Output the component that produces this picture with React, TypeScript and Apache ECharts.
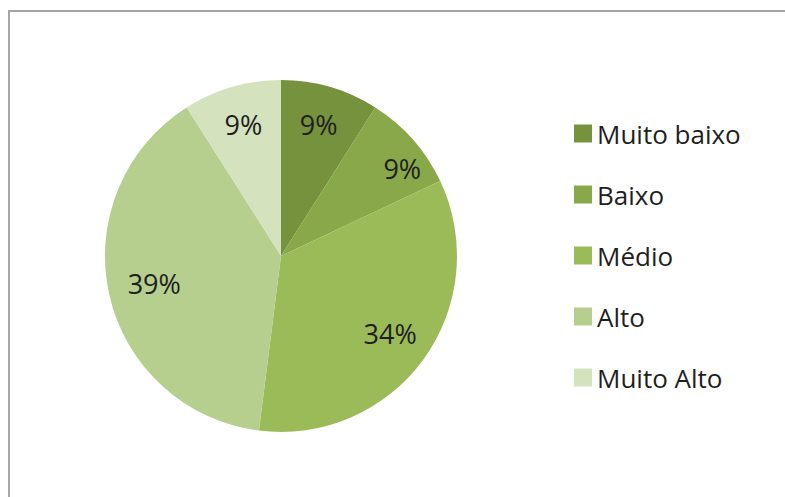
import React, { useEffect, useRef } from "react";
import * as echarts from "echarts";

const categories = ["Muito baixo", "Baixo", "Médio", "Alto", "Muito Alto"];
const values = [9, 9, 34, 39, 9];
const colors = ["#76923c", "#88a84a", "#9bbb59", "#b6ce8e", "#d4e2bd"];

export default function App() {
  const ref = useRef<HTMLDivElement>(null);
  useEffect(() => {
    document.body.style.margin = "0";
    const chart = echarts.init(ref.current!, null, { renderer: "svg" });
    const data = categories.map((name, i) => ({
      name,
      value: values[i],
      itemStyle: { color: colors[i] },
    }));
    chart.setOption({
      animation: false,
      backgroundColor: "#ffffff",
      graphic: [
        {
          type: "rect",
          shape: { x: 9, y: 11, width: 900, height: 600 },
          style: { fill: "none", stroke: "#a6a6a6", lineWidth: 2 },
          silent: true,
        },
      ],
      legend: {
        orient: "vertical",
        left: 569,
        top: 115,
        data: categories,
        icon: "rect",
        itemWidth: 18,
        itemHeight: 18,
        itemGap: 34,
        selectedMode: false,
        textStyle: {
          fontFamily: "Open Sans",
          fontSize: 26,
          lineHeight: 27,
          color: "#1f1f1f",
          padding: [0, 0, 0, 0],
        },
      },
      series: [
        {
          type: "pie",
          center: [281, 256],
          radius: [0, 176],
          startAngle: 90,
          clockwise: true,
          label: { show: false },
          labelLine: { show: false },
          silent: true,
          data,
        },
        {
          type: "pie",
          center: [281, 256],
          radius: [88, 176],
          startAngle: 90,
          clockwise: true,
          silent: true,
          itemStyle: { color: "rgba(0,0,0,0)" },
          label: {
            show: true,
            position: "inside",
            formatter: (p: any) => `${p.value}%`,
            fontFamily: "Open Sans",
            fontSize: 27,
            color: "#1f1f1f",
          },
          labelLayout: (p: any) =>
            p.dataIndex === 1 ? { dx: 20, dy: 2 } : p.dataIndex === 3 ? { dx: 5, dy: -2 } : { dy: -2 },
          labelLine: { show: false },
          data: categories.map((name, i) => ({
            name,
            value: values[i],
            itemStyle: { color: "rgba(0,0,0,0)" },
          })),
        },
      ],
    });
    return () => chart.dispose();
  }, []);
  return <div ref={ref} style={{ width: 785, height: 497 }} />;
}
